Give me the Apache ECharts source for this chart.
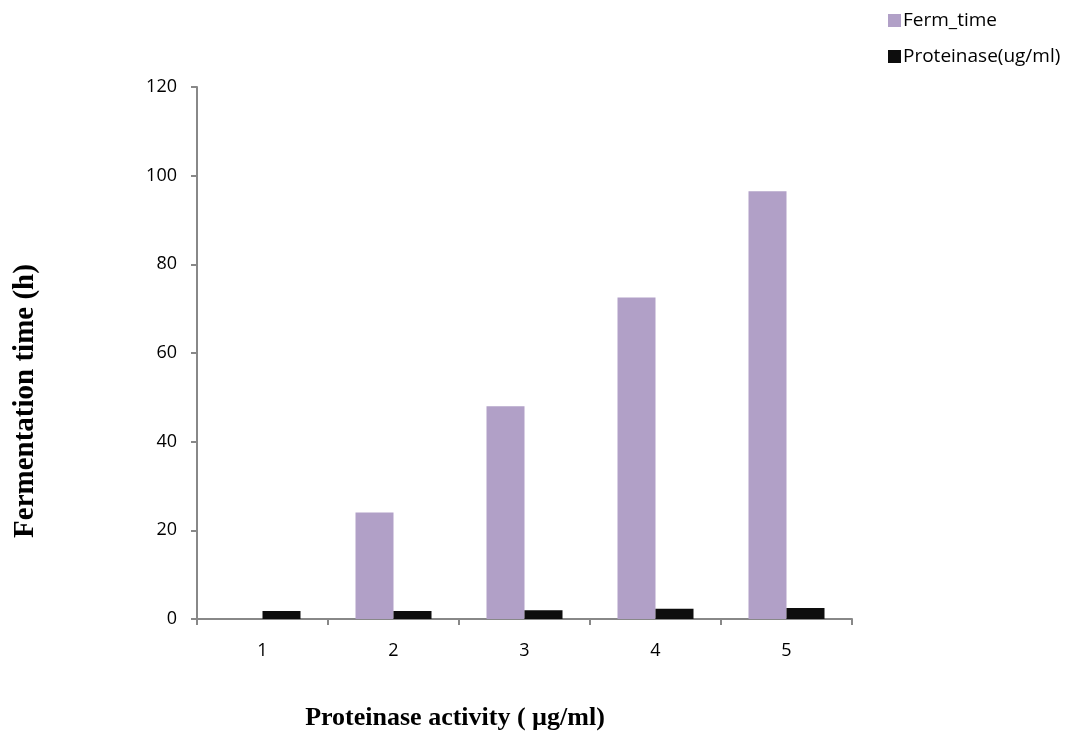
<!DOCTYPE html>
<html><head><meta charset="utf-8">
<script src="https://cdn.jsdelivr.net/npm/echarts@6/dist/echarts.min.js"></script>
<style>html,body{margin:0;padding:0;background:#fff}#c{width:1073px;height:734px}</style>
</head><body><div id="c"></div>
<script>
const categories = ['1','2','3','4','5'];
const fermTime = [0, 24, 48, 72.5, 96.5];
const proteinase = [1.8, 1.8, 2.0, 2.3, 2.5];
const seriesNames = ['Ferm_time', 'Proteinase(ug/ml)'];
const yTitle = 'Fermentation time (h)';
const xTitle = 'Proteinase activity ( µg/ml)';

const chart = echarts.init(document.getElementById('c'));
const lab = {fontFamily: 'Open Sans', fontSize: 18, color: '#000'};
chart.setOption({
  animation: false,
  backgroundColor: '#fff',
  grid: {left: 197, right: 221, top: 87, bottom: 115},
  legend: {
    orient: 'vertical', left: 883, top: 6, itemGap: 17,
    itemWidth: 13, itemHeight: 13, icon: 'rect',
    textStyle: {fontFamily: 'Open Sans', fontSize: 19, color: '#000', padding: [0,0,0,-3]},
    data: seriesNames
  },
  xAxis: {
    type: 'category', data: categories, boundaryGap: true,
    axisLine: {lineStyle: {color: '#888', width: 2}},
    axisTick: {show: true, length: 6, lineStyle: {color: '#888', width: 2}},
    axisLabel: Object.assign({margin: 23}, lab)
  },
  yAxis: {
    type: 'value', min: 0, max: 120, interval: 20,
    axisLine: {show: true, lineStyle: {color: '#888', width: 2}},
    axisTick: {show: true, length: 6, lineStyle: {color: '#888', width: 2}},
    splitLine: {show: false},
    axisLabel: Object.assign({margin: 20}, lab)
  },
  graphic: [
    {type: 'text', x: 26, y: 401, rotation: Math.PI / 2,
     style: {text: yTitle, fontFamily: 'Liberation Serif', fontWeight: 'bold', fontSize: 29,
             fill: '#000', align: 'center', verticalAlign: 'middle'}},
    {type: 'text', x: 455, y: 718,
     style: {text: xTitle, fontFamily: 'Liberation Serif', fontWeight: 'bold', fontSize: 26,
             fill: '#000', align: 'center', verticalAlign: 'middle'}}
  ],
  series: [
    {name: seriesNames[0], type: 'bar', data: fermTime, barWidth: 38, barGap: '0%',
     itemStyle: {color: '#b1a0c7'}},
    {name: seriesNames[1], type: 'bar', data: proteinase, barWidth: 38, barGap: '0%',
     itemStyle: {color: '#0d0d0d'}}
  ]
});
</script></body></html>
